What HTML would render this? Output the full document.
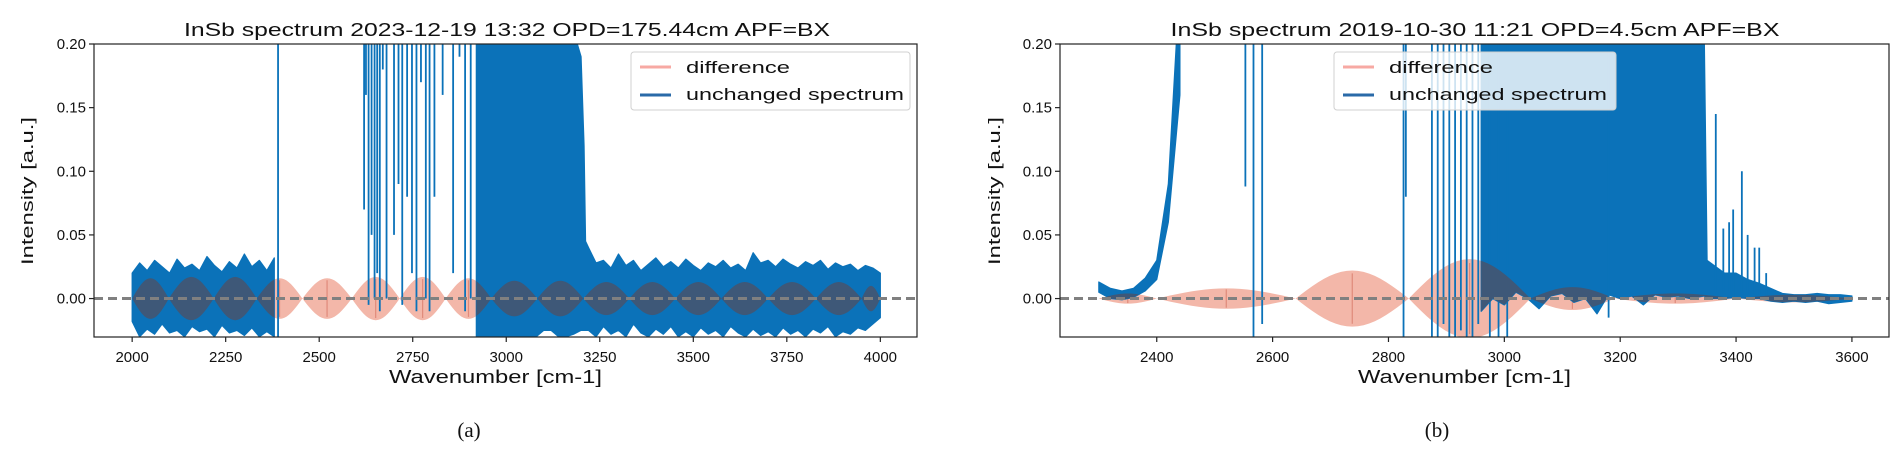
<!DOCTYPE html>
<html><head><meta charset="utf-8"><style>
html,body{margin:0;padding:0;background:#fff;}
svg{display:block;font-family:"Liberation Sans",sans-serif;}
</style></head><body>
<svg id="fig" width="1892" height="460" viewBox="0 0 1892 460" xmlns="http://www.w3.org/2000/svg"></svg>
<script>
// ---------- Chart (a) data ----------
const aBandX = [2000,2020,2040,2060,2080,2100,2120,2140,2160,2180,2200,2220,2240,2260,2280,2300,2320,2340,2360,2380,
2400,2420,2440,2460,2480,2500,2520,2540,2560,2580,2600,2620,2640,2660,2680,2700,2720,2740,2760,2780,2800,2820,2840,2860,2880,2900,
2920,2940,2960,2980,3000,3020,3040,3060,3080,3100,3120,3140,3160,3180,3200,3208,
3212,3220,3240,3260,3280,3300,3320,3340,3360,3380,3400,3420,3440,3460,3480,3500,3520,3540,3560,3580,3600,3620,3640,3660,3680,3700,3720,3740,3760,3780,3800,3820,3840,3860,3880,3900,3920,3940,3960,3980,4000];
const aBandHigh = [0.02,0.028,0.022,0.03,0.025,0.02,0.031,0.024,0.027,0.022,0.033,0.026,0.021,0.029,0.024,0.035,0.025,0.03,0.022,0.032,
null,null,null,null,null,null,null,null,null,null,null,null,null,null,null,null,null,null,null,null,null,null,null,null,null,null,
0.21,0.21,0.21,0.21,0.21,0.21,0.21,0.21,0.21,0.21,0.21,0.21,0.21,0.21,0.19,0.12,
0.045,0.04,0.028,0.03,0.024,0.035,0.026,0.03,0.022,0.027,0.032,0.025,0.029,0.024,0.031,0.026,0.022,0.028,0.025,0.03,0.024,0.027,0.022,0.036,0.028,0.03,0.025,0.031,0.027,0.024,0.029,0.026,0.03,0.023,0.028,0.025,0.027,0.022,0.026,0.024,0.02];
const aBandLow = [-0.018,-0.03,-0.024,-0.028,-0.02,-0.027,-0.025,-0.03,-0.022,-0.026,-0.024,-0.03,-0.021,-0.027,-0.025,-0.029,-0.023,-0.03,-0.026,-0.03,
null,null,null,null,null,null,null,null,null,null,null,null,null,null,null,null,null,null,null,null,null,null,null,null,null,null,
-0.03,-0.03,-0.03,-0.03,-0.03,-0.03,-0.03,-0.03,-0.03,-0.025,-0.025,-0.03,-0.03,-0.028,-0.025,-0.025,
-0.025,-0.025,-0.03,-0.022,-0.028,-0.025,-0.03,-0.02,-0.027,-0.03,-0.024,-0.028,-0.022,-0.03,-0.026,-0.03,-0.023,-0.028,-0.025,-0.03,-0.022,-0.027,-0.03,-0.024,-0.029,-0.026,-0.03,-0.023,-0.028,-0.025,-0.03,-0.024,-0.027,-0.022,-0.03,-0.026,-0.028,-0.023,-0.025,-0.02,-0.015];
const aSpikeX = [2390,2620,2625,2632,2640,2648,2655,2662,2670,2680,2700,2712,2722,2735,2748,2760,2772,2785,2795,2808,2830,2858,2875,2890,2905];
const aSpikeLow = [-0.03,0.07,0.16,-0.005,0.05,0.0,0.02,-0.01,0.18,0.0,0.05,0.09,-0.005,0.08,0.02,-0.01,0.17,0.0,-0.01,0.08,0.16,0.02,0.19,-0.01,0.0];
const aSpikeHigh = [0.21,0.21,0.21,0.21,0.21,0.21,0.21,0.21,0.21,0.21,0.21,0.21,0.21,0.21,0.21,0.21,0.21,0.21,0.21,0.21,0.21,0.21,0.21,0.21,0.21];
const aDiffNodes = [2000,2098,2218,2333,2455,2587,2715,2838,2960,3083,3206,3329,3452,3575,3700,3828,3950,4000];
const aDiffAmps = [0.016,0.017,0.017,0.016,0.016,0.017,0.017,0.016,0.014,0.014,0.013,0.013,0.013,0.013,0.013,0.013,0.01];
const aXTicks = [2000,2250,2500,2750,3000,3250,3500,3750,4000];
const aXTickLabels = ["2000","2250","2500","2750","3000","3250","3500","3750","4000"];
// ---------- Chart (b) data ----------
const bBandX = [2300,2320,2340,2360,2380,2400,2420,2440,2460,2480,2500,2520,2540,2560,2580,2600,2620,2640,2660,2680,2700,2720,2740,2760,2780,2800,
2820,2840,2860,2880,2900,2920,2940,
2960,2980,3000,3020,3040,3060,3080,3100,3120,3140,3160,3180,3200,3220,3240,3260,3280,3300,3320,3345,
3350,3380,3400,3420,3440,3460,3480,3500,3520,3540,3560,3580,3600];
const bBandHigh = [0.013,0.008,0.006,0.008,0.016,0.03,0.09,0.25,
null,null,null,null,null,null,null,null,null,null,null,null,null,null,null,null,null,null,null,null,null,null,null,null,null,
0.21,0.21,0.21,0.21,0.21,0.21,0.21,0.21,0.21,0.21,0.21,0.21,0.21,0.21,0.21,0.21,0.21,0.21,0.21,0.21,
0.03,0.02,0.02,0.015,0.012,0.008,0.004,0.003,0.003,0.004,0.003,0.003,0.002];
const bBandLow = [0.005,0.0,-0.001,0.001,0.006,0.015,0.06,0.16,
null,null,null,null,null,null,null,null,null,null,null,null,null,null,null,null,null,null,null,null,null,null,null,null,null,
-0.01,0.0,-0.005,0.005,0.0,-0.008,0.002,0.004,-0.003,0.0,-0.012,0.003,0.0,0.002,-0.005,0.003,0.001,0.002,0.0,0.002,
0.0,0.0,0.001,0.0,0.0,-0.002,-0.003,-0.002,-0.003,-0.002,-0.004,-0.003,-0.002];
const bSpikeX = [2553,2567,2582,2826,2830,2875,2885,2895,2905,2915,2925,2935,2945,2955,2975,2990,3005,3180,3365,3378,3388,3395,3410,3420,3432,3440,3452];
const bSpikeLow = [0.088,-0.03,-0.02,-0.03,0.08,-0.03,-0.03,-0.02,-0.03,-0.03,-0.025,-0.03,-0.03,-0.02,-0.03,-0.03,-0.03,-0.015,0.005,0.005,0.005,0.0,0.005,0.003,0.003,0.003,0.002];
const bSpikeHigh = [0.21,0.21,0.21,0.21,0.21,0.21,0.21,0.21,0.21,0.21,0.21,0.21,0.21,0.21,0.21,0.21,0.21,0.21,0.145,0.055,0.06,0.07,0.1,0.05,0.04,0.04,0.02];
const bDiffNodes = [2300,2400,2640,2835,3045,3190,3400,3600];
const bDiffAmps = [0.004,0.008,0.022,0.031,0.009,0.004,0.003];
const bXTicks = [2400,2600,2800,3000,3200,3400,3600];
const bXTickLabels = ["2400","2600","2800","3000","3200","3400","3600"];
const yTicks = [0.20,0.15,0.10,0.05,0.00];
const yTickLabels = ["0.20","0.15","0.10","0.05","0.00"];

const NS = "http://www.w3.org/2000/svg";
const fig = document.getElementById('fig');
function mk(tag, attrs, parent){ const e=document.createElementNS(NS,tag); for(const k in attrs) e.setAttribute(k,attrs[k]); (parent||fig).appendChild(e); return e; }

function drawChart(cfg){
  const {id,L,R,T,B,xmin,xmax,ymin,ymax} = cfg;
  const sx = v => L + (v-xmin)/(xmax-xmin)*(R-L);
  const sy = v => B - (v-ymin)/(ymax-ymin)*(B-T);
  const g = mk('g',{});
  
  
  const defs = mk('defs',{},g);
  const clip = mk('clipPath',{id:id+'-clip'},defs);
  mk('rect',{x:L,y:T,width:R-L,height:B-T},clip);
  const bandClip = mk('clipPath',{id:id+'-bandclip'},defs);
  const bandPolys = [];
  let run = [];
  const flush = () => { if(run.length>1){ const up=run.map(i=>sx(cfg.bandX[i])+','+sy(cfg.bandHigh[i])); const lo=run.slice().reverse().map(i=>sx(cfg.bandX[i])+','+sy(cfg.bandLow[i])); bandPolys.push(up.concat(lo).join(' ')); } run=[]; };
  for(let i=0;i<cfg.bandX.length;i++){ if(cfg.bandHigh[i]===null) flush(); else run.push(i); }
  flush();
  bandPolys.forEach(p=>mk('polygon',{points:p},bandClip));
  let top=[], bot=[];
  for(let k=0;k<cfg.diffNodes.length-1;k++){
    const a=cfg.diffNodes[k], b=cfg.diffNodes[k+1], amp=cfg.diffAmps[k];
    for(let s=0;s<=20;s++){ const t=s/20; const x=a+(b-a)*t; const v=amp*Math.sin(Math.PI*t); top.push(sx(x)+','+sy(v)); bot.push(sx(x)+','+sy(-v)); }
  }
  const diffPts = top.concat(bot.reverse()).join(' ');
  const plot = mk('g',{'clip-path':'url(#'+id+'-clip)'},g);
  const diff = mk('polygon',{points:diffPts,fill:'#f3b7a9'},plot);
  
  
  for(let k=0;k<cfg.diffNodes.length-1;k++){
    const c=(cfg.diffNodes[k]+cfg.diffNodes[k+1])/2, amp=cfg.diffAmps[k];
    mk('line',{x1:sx(c),x2:sx(c),y1:sy(amp*0.9),y2:sy(-amp*0.9),stroke:'#e08a7a','stroke-width':1.2},plot);
  }
  bandPolys.forEach(p=>{ const e=mk('polygon',{points:p,fill:'#0b72b9',stroke:'#0b72b9','stroke-width':1.2,'stroke-linejoin':'round'},plot);
    
     });
  for(let i=0;i<cfg.spikeX.length;i++){
    const e=mk('line',{x1:sx(cfg.spikeX[i]),x2:sx(cfg.spikeX[i]),y1:sy(cfg.spikeLow[i]),y2:sy(cfg.spikeHigh[i]),stroke:'#0b72b9','stroke-width':1.8},plot);
    
    
  }
  const ov = mk('g',{'clip-path':'url(#'+id+'-bandclip)'},plot);
  mk('polygon',{points:diffPts,fill:'#3e5878'},ov);
  const z = mk('line',{x1:L,x2:R,y1:sy(0),y2:sy(0),stroke:'#808080','stroke-width':3,'stroke-dasharray':'9,5'},g);
  
  
  mk('rect',{x:L,y:T,width:R-L,height:B-T,fill:'none',stroke:'#222','stroke-width':1.2},g);
  cfg.xTicks.forEach((v,i)=>{ mk('line',{x1:sx(v),x2:sx(v),y1:B,y2:B+5,stroke:'#222','stroke-width':1.2},g);
    const t=mk('text',{x:sx(v),y:B+25,'text-anchor':'middle','font-size':15,fill:'#111'},g); t.textContent=cfg.xTickLabels[i];
    
     });
  yTicks.forEach((v,i)=>{ mk('line',{x1:L-5,x2:L,y1:sy(v),y2:sy(v),stroke:'#222','stroke-width':1.2},g);
    const t=mk('text',{x:L-8,y:sy(v)+5,'text-anchor':'end','font-size':15,fill:'#111'},g); t.textContent=yTickLabels[i];
    
     });
  const title=mk('text',{x:cfg.titleX,y:36,'text-anchor':'middle','font-size':18,fill:'#111',textLength:cfg.titleW,lengthAdjust:'spacingAndGlyphs'},g);
  title.textContent=cfg.title;
  
  
  const xl=mk('text',{x:(L+R)/2-10,y:383,'text-anchor':'middle','font-size':18,fill:'#111',textLength:213,lengthAdjust:'spacingAndGlyphs'},g);
  xl.textContent='Wavenumber [cm-1]';
  
  
  const yl=mk('text',{x:0,y:0,'text-anchor':'middle','font-size':17,fill:'#111',transform:'translate('+(cfg.ylX)+',191) rotate(-90)',textLength:148,lengthAdjust:'spacingAndGlyphs'},g);
  yl.textContent='Intensity [a.u.]';
  
  
  const cap=mk('text',{x:cfg.capX,y:437,'text-anchor':'middle','font-size':21,fill:'#111','font-family':'Liberation Serif, serif'},g);
  cap.textContent=cfg.cap;
  
  
  const lg=mk('g',{},g);
  
  
  mk('rect',{x:cfg.legX,y:52,width:cfg.legW,height:58,rx:3,fill:'rgba(255,255,255,0.8)',stroke:'#d0d0d0','stroke-width':1},lg);
  mk('line',{x1:cfg.legX+9,x2:cfg.legX+40,y1:67,y2:67,stroke:'#f7a9a3','stroke-width':3},lg);
  mk('line',{x1:cfg.legX+9,x2:cfg.legX+40,y1:95,y2:95,stroke:'#2a6aa8','stroke-width':3},lg);
  const t1=mk('text',{x:cfg.legX+55,y:73,'font-size':17,fill:'#111',textLength:104,lengthAdjust:'spacingAndGlyphs'},lg); t1.textContent='difference';
  
  
  const t2=mk('text',{x:cfg.legX+55,y:100,'font-size':17,fill:'#111',textLength:218,lengthAdjust:'spacingAndGlyphs'},lg); t2.textContent='unchanged spectrum';
  
  
}

drawChart({id:'chart-a',L:94,R:917,T:44,B:337,xmin:1898,xmax:4098,ymin:-0.0302,ymax:0.2,
  bandX:aBandX,bandHigh:aBandHigh,bandLow:aBandLow,spikeX:aSpikeX,spikeLow:aSpikeLow,spikeHigh:aSpikeHigh,
  diffNodes:aDiffNodes,diffAmps:aDiffAmps,xTicks:aXTicks,xTickLabels:aXTickLabels,
  title:'InSb spectrum 2023-12-19 13:32 OPD=175.44cm APF=BX',titleX:507,titleW:646,ylX:33,capX:469,cap:'(a)',legX:631,legW:279});
drawChart({id:'chart-b',L:1060,R:1889,T:44,B:337,xmin:2233,xmax:3664,ymin:-0.0302,ymax:0.2,
  bandX:bBandX,bandHigh:bBandHigh,bandLow:bBandLow,spikeX:bSpikeX,spikeLow:bSpikeLow,spikeHigh:bSpikeHigh,
  diffNodes:bDiffNodes,diffAmps:bDiffAmps,xTicks:bXTicks,xTickLabels:bXTickLabels,
  title:'InSb spectrum 2019-10-30 11:21 OPD=4.5cm APF=BX',titleX:1475,titleW:609,ylX:1000,capX:1437,cap:'(b)',legX:1334,legW:282});
</script>
</body></html>
